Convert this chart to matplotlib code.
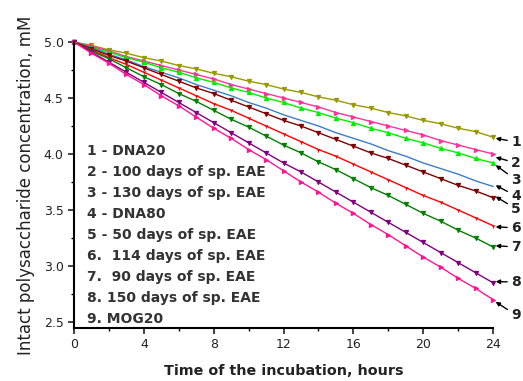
import matplotlib
matplotlib.use("Agg")
import matplotlib.pyplot as plt
from matplotlib.ticker import MultipleLocator, FormatStrFormatter

hours = list(range(25))
s1 = [5.00, 4.97, 4.93, 4.90, 4.86, 4.83, 4.79, 4.76, 4.72, 4.69, 4.65, 4.62, 4.58, 4.55, 4.51, 4.48, 4.44, 4.41, 4.37, 4.34, 4.30, 4.27, 4.23, 4.20, 4.15]
s2 = [5.00, 4.96, 4.92, 4.87, 4.83, 4.79, 4.75, 4.71, 4.67, 4.62, 4.58, 4.54, 4.50, 4.46, 4.42, 4.37, 4.33, 4.29, 4.25, 4.21, 4.17, 4.12, 4.08, 4.04, 4.00]
s3 = [5.00, 4.95, 4.91, 4.86, 4.82, 4.77, 4.73, 4.68, 4.64, 4.59, 4.55, 4.50, 4.46, 4.41, 4.37, 4.32, 4.28, 4.23, 4.19, 4.14, 4.10, 4.05, 4.01, 3.96, 3.92]
s4 = [5.00, 4.95, 4.89, 4.84, 4.78, 4.73, 4.68, 4.62, 4.57, 4.52, 4.46, 4.41, 4.35, 4.30, 4.25, 4.19, 4.14, 4.09, 4.03, 3.98, 3.92, 3.87, 3.82, 3.76, 3.71]
s5 = [5.00, 4.94, 4.88, 4.83, 4.77, 4.71, 4.65, 4.59, 4.54, 4.48, 4.42, 4.36, 4.30, 4.25, 4.19, 4.13, 4.07, 4.01, 3.96, 3.90, 3.84, 3.78, 3.72, 3.67, 3.61]
s6 = [5.00, 4.93, 4.86, 4.80, 4.73, 4.66, 4.59, 4.52, 4.45, 4.39, 4.32, 4.25, 4.18, 4.11, 4.04, 3.98, 3.91, 3.84, 3.77, 3.70, 3.63, 3.57, 3.50, 3.43, 3.36]
s7 = [5.00, 4.92, 4.85, 4.77, 4.69, 4.62, 4.54, 4.47, 4.39, 4.31, 4.24, 4.16, 4.08, 4.01, 3.93, 3.86, 3.78, 3.70, 3.63, 3.55, 3.47, 3.40, 3.32, 3.25, 3.17]
s8 = [5.00, 4.91, 4.82, 4.73, 4.64, 4.55, 4.46, 4.37, 4.28, 4.19, 4.10, 4.01, 3.92, 3.84, 3.75, 3.66, 3.57, 3.48, 3.39, 3.30, 3.21, 3.12, 3.03, 2.94, 2.85]
s9 = [5.00, 4.90, 4.81, 4.71, 4.62, 4.52, 4.43, 4.33, 4.23, 4.14, 4.04, 3.95, 3.85, 3.75, 3.66, 3.56, 3.47, 3.37, 3.28, 3.18, 3.08, 2.99, 2.89, 2.80, 2.70]

series = [s1, s2, s3, s4, s5, s6, s7, s8, s9]
curve_ids = ["1", "2", "3", "4", "5", "6", "7", "8", "9"]
legend_lines = [
    "1 - DNA20",
    "2 - 100 days of sp. EAE",
    "3 - 130 days of sp. EAE",
    "4 - DNA80",
    "5 - 50 days of sp. EAE",
    "6.  114 days of sp. EAE",
    "7.  90 days of sp. EAE",
    "8. 150 days of sp. EAE",
    "9. MOG20",
]
# label positions (y of curve number) and arrow head positions
label_y = [4.107, 3.92, 3.768, 3.625, 3.509, 3.339, 3.17, 2.857, 2.56]
arrow_y = [4.14, 3.97, 3.90, 3.72, 3.62, 3.35, 3.18, 2.86, 2.68]

colors = ["#999900", "#FF3399", "#00EE00", "#3D7CC9", "#800000",
          "#FF0000", "#008000", "#800080", "#FF1493"]
markers = ["v", ">", "^", "", "v", "1", "v", "v", ">"]

fig = plt.figure(figsize=(5.23, 3.81), dpi=100)
ax = fig.add_axes([74/523, 1-328/381, 419/523, 286/381])

for s, c, m in zip(series, colors, markers):
    ax.plot(hours, s, color=c, lw=1.0, marker=m if m else None,
            markersize=3, markeredgewidth=0.8, clip_on=False)

ax.set_xlim(0, 24)
ax.set_ylim(2.446, 5.0)
ax.xaxis.set_major_locator(MultipleLocator(4))
ax.xaxis.set_minor_locator(MultipleLocator(2))
ax.yaxis.set_major_locator(MultipleLocator(0.5))
ax.yaxis.set_minor_locator(MultipleLocator(0.25))
ax.spines["top"].set_visible(False)
ax.spines["right"].set_visible(False)
ax.spines["left"].set_linewidth(1.5)
ax.spines["bottom"].set_linewidth(1.5)
ax.tick_params(which="major", direction="out", length=4, width=1.2, labelsize=9, colors="#222222")
ax.tick_params(which="minor", direction="out", length=2, width=1.0)
ax.yaxis.set_major_formatter(FormatStrFormatter("%.1f"))

ax.set_xlabel("Time of the incubation, hours", fontsize=10.3, fontweight="bold", color="#222222", labelpad=9)
ax.set_ylabel("Intact polysaccharide concentration, mM", fontsize=12, color="#222222", labelpad=6)

for i, txt in enumerate(legend_lines):
    ax.text(0.75, 4.03 - i*0.1875, txt, fontsize=10, fontweight="bold", color="#333333",
            va="center", ha="left")

for cid, ly, ay in zip(curve_ids, label_y, arrow_y):
    ax.annotate(cid, xy=(24.15, ay), xytext=(25.05, ly), textcoords="data",
                fontsize=10, fontweight="bold", color="#222222", va="center", ha="left",
                annotation_clip=False,
                arrowprops=dict(arrowstyle="-|>", color="black", lw=1.0,
                                mutation_scale=6, shrinkA=1, shrinkB=0))

fig.savefig("out.png", dpi=100)
